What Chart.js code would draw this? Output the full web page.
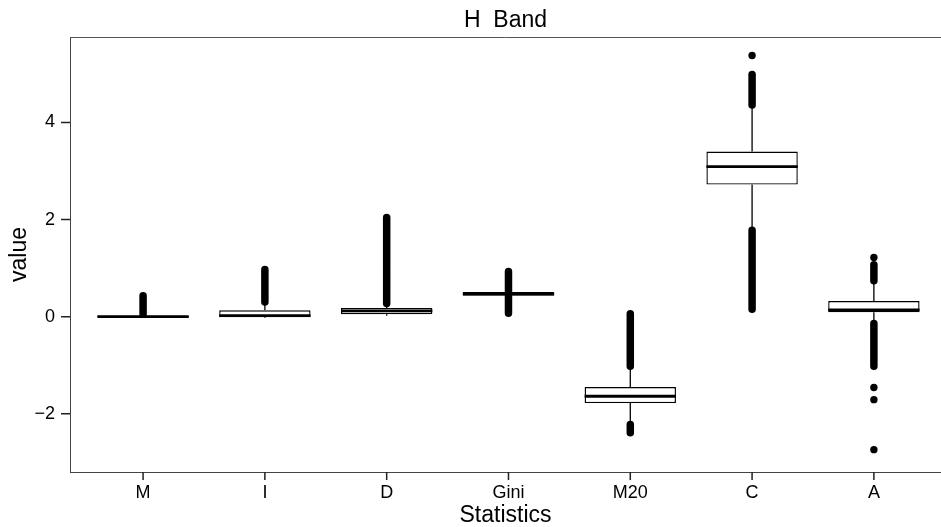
<!DOCTYPE html>
<html>
<head>
<meta charset="utf-8">
<script src="https://cdn.jsdelivr.net/npm/chart.js@4/dist/chart.umd.min.js"></script>
<style>
  html, body { margin: 0; padding: 0; background: #fff; overflow: hidden; }
  canvas { display: block; }
</style>
</head>
<body>
<canvas id="c" width="941" height="527" style="width:941px;height:527px"></canvas>
<script>
// ---- data ----
const categories   = ['M', 'I', 'D', 'Gini', 'M20', 'C', 'A'];
const q1           = [-0.02, -0.01, 0.05, 0.43, -1.78, 2.72, 0.09];
const median       = [ 0.00,  0.02, 0.12, 0.47, -1.64, 3.09, 0.14];
const q3           = [ 0.02,  0.13, 0.18, 0.51, -1.45, 3.40, 0.32];
const whiskerLow   = [-0.03, -0.03, 0.02, 0.42, -2.19, 1.81, -0.12];
const whiskerHigh  = [ 0.04,  0.28, 0.25, 0.58, -1.05, 4.34, 0.72];
// dense runs of outliers (drawn as continuous dot columns)
const upperOutLo   = [ 0.05,  0.30, 0.27, 0.52, -1.02, 4.36, 0.74];
const upperOutHi   = [ 0.43,  0.97, 2.04, 0.93,  0.06, 4.99, 1.07];
const lowerOutLo   = [ null,  null, null, 0.07, -2.39, 0.15, -1.02];
const lowerOutHi   = [ null,  null, null, 0.42, -2.22, 1.78, -0.14];
// isolated outliers: category position (1-based) and value
const isolatedCat  = [6, 7, 7, 7, 7];
const isolatedVal  = [5.38, 1.22, -1.46, -1.71, -2.74];
const yTicks       = [-2, 0, 2, 4];

const BOX_FRAC = 0.75;

// ---- build datasets ----
const boxData = categories.map((c, i) => ({ x: i + 1, y: [q1[i], q3[i]] }));
const medData = [];
const whiskData = [];
const bandData = [];
categories.forEach((c, i) => {
  const x = i + 1;
  medData.push({ x: x - BOX_FRAC / 2, y: median[i] }, { x: x + BOX_FRAC / 2, y: median[i] }, { x: x, y: null });
  whiskData.push({ x, y: whiskerLow[i] }, { x, y: q1[i] }, { x, y: null },
                 { x, y: q3[i] }, { x, y: whiskerHigh[i] }, { x, y: null });
  bandData.push({ x, y: upperOutLo[i] }, { x, y: upperOutHi[i] }, { x, y: null });
  if (lowerOutLo[i] !== null) {
    bandData.push({ x, y: lowerOutLo[i] }, { x, y: lowerOutHi[i] }, { x, y: null });
  }
});
const isoData = isolatedCat.map((c, i) => ({ x: c, y: isolatedVal[i] }));

// tick marks and top frame line, drawn from the chart's own scales
const frameAndTicks = {
  id: 'frameAndTicks',
  afterDraw(chart) {
    const { ctx, chartArea, scales } = chart;
    ctx.save();
    ctx.strokeStyle = '#555';
    ctx.lineWidth = 1;
    ctx.beginPath();
    ctx.moveTo(chartArea.left, chartArea.top + 0.5);
    ctx.lineTo(chart.width, chartArea.top + 0.5);
    ctx.stroke();
    ctx.strokeStyle = '#222';
    ctx.lineWidth = 1.5;
    ctx.beginPath();
    categories.forEach((c, i) => {
      const px = scales.x.getPixelForValue(i + 1);
      ctx.moveTo(px, chartArea.bottom);
      ctx.lineTo(px, chartArea.bottom + 8);
    });
    yTicks.forEach(v => {
      const py = scales.y.getPixelForValue(v);
      ctx.moveTo(chartArea.left - 9, py);
      ctx.lineTo(chartArea.left, py);
    });
    ctx.stroke();
    ctx.restore();
  }
};

const FONT = "'Liberation Sans', Arial, Helvetica, sans-serif";

const chart = new Chart(document.getElementById('c'), {
  type: 'bar',
  data: {
    datasets: [
      { type: 'line', label: 'median', data: medData, borderColor: '#000', borderWidth: 2.8,
        pointRadius: 0, spanGaps: false, borderCapStyle: 'butt', tension: 0 },
      { type: 'bar', label: 'box', data: boxData, backgroundColor: '#fff', borderColor: '#000',
        borderWidth: 1.4, borderSkipped: false, barPercentage: BOX_FRAC, categoryPercentage: 1 },
      { type: 'line', label: 'whiskers', data: whiskData, borderColor: '#000', borderWidth: 1.3,
        pointRadius: 0, spanGaps: false, tension: 0 },
      { type: 'line', label: 'outliers', data: bandData, borderColor: '#000', borderWidth: 7.5,
        borderCapStyle: 'round', pointRadius: 0, spanGaps: false, tension: 0 },
      { type: 'scatter', label: 'outlier points', data: isoData, backgroundColor: '#000',
        borderWidth: 0, pointRadius: 3.7 }
    ]
  },
  options: {
    responsive: false,
    animation: false,
    devicePixelRatio: 1,
    layout: { padding: 0, autoPadding: false },
    plugins: {
      legend: { display: false },
      tooltip: { enabled: false },
      title: {
        display: true, text: 'H  Band', fullSize: false, color: '#000',
        font: { family: FONT, size: 23, weight: 'normal', lineHeight: 1 },
        padding: { top: 9, bottom: 5 }
      }
    },
    scales: {
      x: {
        type: 'linear', min: 0.4, max: 7.551, offset: false,
        grid: { display: false, offset: false, drawTicks: false },
        border: { display: true, color: '#444', width: 1 },
        afterBuildTicks: s => { s.ticks = categories.map((c, i) => ({ value: i + 1 })); },
        afterFit: s => { s.height = 55; },
        ticks: {
          color: '#000', padding: 10, maxRotation: 0, autoSkip: false,
          font: { family: FONT, size: 18 },
          callback: v => categories[Math.round(v) - 1]
        },
        title: {
          display: true, text: 'Statistics', color: '#000',
          font: { family: FONT, size: 23, lineHeight: 1 }, padding: { top: 0, bottom: 0 }
        }
      },
      y: {
        type: 'linear', min: -3.2, max: 5.76,
        grid: { display: false, offset: false, drawTicks: false },
        border: { display: true, color: '#444', width: 1 },
        afterBuildTicks: s => { s.ticks = yTicks.map(v => ({ value: v })); },
        afterFit: s => { s.width = 70; },
        ticks: {
          color: '#000', padding: 15,
          font: { family: FONT, size: 18 },
          callback: v => (v < 0 ? '\u2212' + Math.abs(v) : String(v))
        },
        title: {
          display: true, text: 'value', color: '#000',
          font: { family: FONT, size: 23, lineHeight: 1 }, padding: { top: 8, bottom: 0 }
        }
      }
    }
  },
  plugins: [frameAndTicks]
});
</script>
</body>
</html>
